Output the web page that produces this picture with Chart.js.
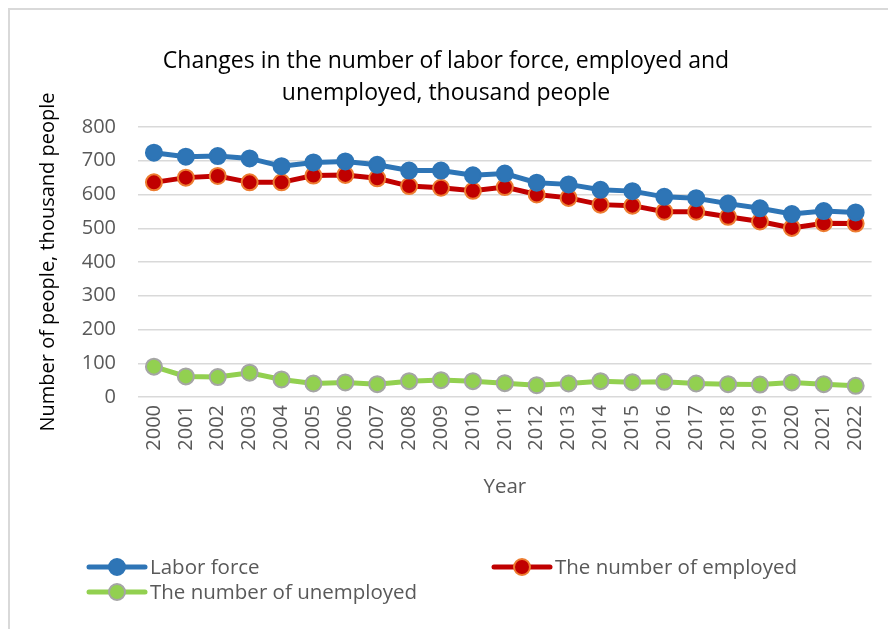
<!DOCTYPE html>
<html>
<head>
<meta charset="utf-8">
<script src="https://cdn.jsdelivr.net/npm/chart.js@4"></script>
<style>
  html, body { margin: 0; padding: 0; background: #fff; overflow: hidden; }
  #frame { position: absolute; left: 8px; top: 8px; width: 920px; height: 660px;
           border: 2px solid #d9d9d9; box-sizing: border-box; }
  #wrap { position: absolute; left: 0; top: 0; width: 888px; height: 629px; }
</style>
</head>
<body>
<div id="frame"></div>
<div id="wrap"><canvas id="chart" width="888" height="629"></canvas></div>
<script>
// Datos (miles de personas)
const years = ["2000", "2001", "2002", "2003", "2004", "2005", "2006", "2007", "2008", "2009", "2010", "2011",
               "2012", "2013", "2014", "2015", "2016", "2017", "2018", "2019", "2020", "2021", "2022"];
const laborForce = [724, 712, 714, 707, 684, 695, 698, 688, 671, 671, 657, 662,
                    635, 630, 614, 610, 593, 589, 573, 559, 542, 551, 547];
const employed = [636, 650, 655, 636, 636, 656, 658, 648, 625, 620, 611, 622,
                  600, 590, 570, 567, 549, 549, 534, 520, 501, 515, 514];
const unemployed = [90, 61, 59, 72, 52, 40, 43, 38, 47, 50, 47, 41,
                    35, 40, 47, 44, 45, 40, 38, 37, 43, 38, 33];
const seriesNames = ["Labor force", "The number of employed", "The number of unemployed"];
const yTicks = [0, 100, 200, 300, 400, 500, 600, 700, 800];

const FONT = "'Open Sans', 'DejaVu Sans', sans-serif";

// Leyenda dibujada a mano (dos columnas, como en el original)
const legendPlugin = {
    id: "customLegend",
    afterDraw(chart) {
        const ctx = chart.ctx;
        const slots = [
            { x: 89, y: 567 },
            { x: 494, y: 567 },
            { x: 89, y: 592 }
        ];
        chart.data.datasets.forEach((ds, i) => {
            const s = slots[i];
            ctx.save();
            ctx.strokeStyle = ds.borderColor;
            ctx.lineWidth = ds.borderWidth;
            ctx.lineCap = "round";
            ctx.beginPath();
            ctx.moveTo(s.x, s.y);
            ctx.lineTo(s.x + 56, s.y);
            ctx.stroke();
            ctx.beginPath();
            ctx.arc(s.x + 28, s.y, ds.pointRadius, 0, Math.PI * 2);
            ctx.fillStyle = ds.pointBackgroundColor;
            ctx.fill();
            ctx.lineWidth = ds.pointBorderWidth;
            ctx.strokeStyle = ds.pointBorderColor;
            ctx.stroke();
            ctx.fillStyle = "#595959";
            ctx.font = "20.5px " + FONT;
            ctx.textBaseline = "middle";
            ctx.textAlign = "left";
            ctx.fillText(ds.label, s.x + 61, s.y + 1);
            ctx.restore();
        });
    }
};

function makeSeries(label, data, line, fill, edge, radius) {
    return {
        label: label,
        data: data,
        borderColor: line,
        borderWidth: 5,
        pointBackgroundColor: fill,
        pointBorderColor: edge,
        pointBorderWidth: 2,
        pointRadius: radius,
        pointHoverRadius: radius,
        tension: 0
    };
}

new Chart(document.getElementById("chart"), {
    type: "line",
    data: {
        labels: years,
        datasets: [
            makeSeries(seriesNames[0], laborForce, "#2E75B6", "#2E75B6", "#2E75B6", 8),
            makeSeries(seriesNames[1], employed, "#C00000", "#C00000", "#ED7D31", 8),
            makeSeries(seriesNames[2], unemployed, "#92D050", "#92D050", "#A5A5A5", 8)
        ]
    },
    options: {
        responsive: false,
        animation: false,
        layout: { padding: { left: 20, right: 16, top: 0, bottom: 124 } },
        plugins: {
            legend: { display: false },
            tooltip: { enabled: false },
            title: {
                display: true,
                text: ["Changes in the number of labor force, employed and", "unemployed, thousand people"],
                color: "#000",
                font: { family: FONT, size: 23, weight: "normal", lineHeight: 32 / 23 },
                padding: { top: 45, bottom: 18 }
            }
        },
        scales: {
            x: {
                offset: true,
                grid: { display: false, drawTicks: false },
                border: { display: false },
                ticks: {
                    color: "#595959",
                    font: { family: FONT, size: 20 },
                    maxRotation: 90,
                    minRotation: 90,
                    padding: 8,
                    autoSkip: false
                },
                title: {
                    display: true,
                    text: "Year",
                    color: "#595959",
                    font: { family: FONT, size: 20.5 },
                    padding: { top: 0, bottom: 6 }
                },
                afterFit(scale) { scale.height = 108; }
            },
            y: {
                min: 0,
                max: 800,
                afterBuildTicks(scale) { scale.ticks = yTicks.map(v => ({ value: v })); },
                grid: { color: "#d9d9d9", lineWidth: 1.5, drawTicks: false },
                border: { display: false },
                ticks: {
                    color: "#595959",
                    font: { family: FONT, size: 20 },
                    padding: 22
                },
                title: {
                    display: true,
                    text: "Number of people, thousand people",
                    color: "#000",
                    font: { family: FONT, size: 20 },
                    padding: { top: 16, bottom: 0 }
                },
                afterFit(scale) { scale.width = 118; }
            }
        }
    },
    plugins: [legendPlugin]
});
</script>
</body>
</html>
